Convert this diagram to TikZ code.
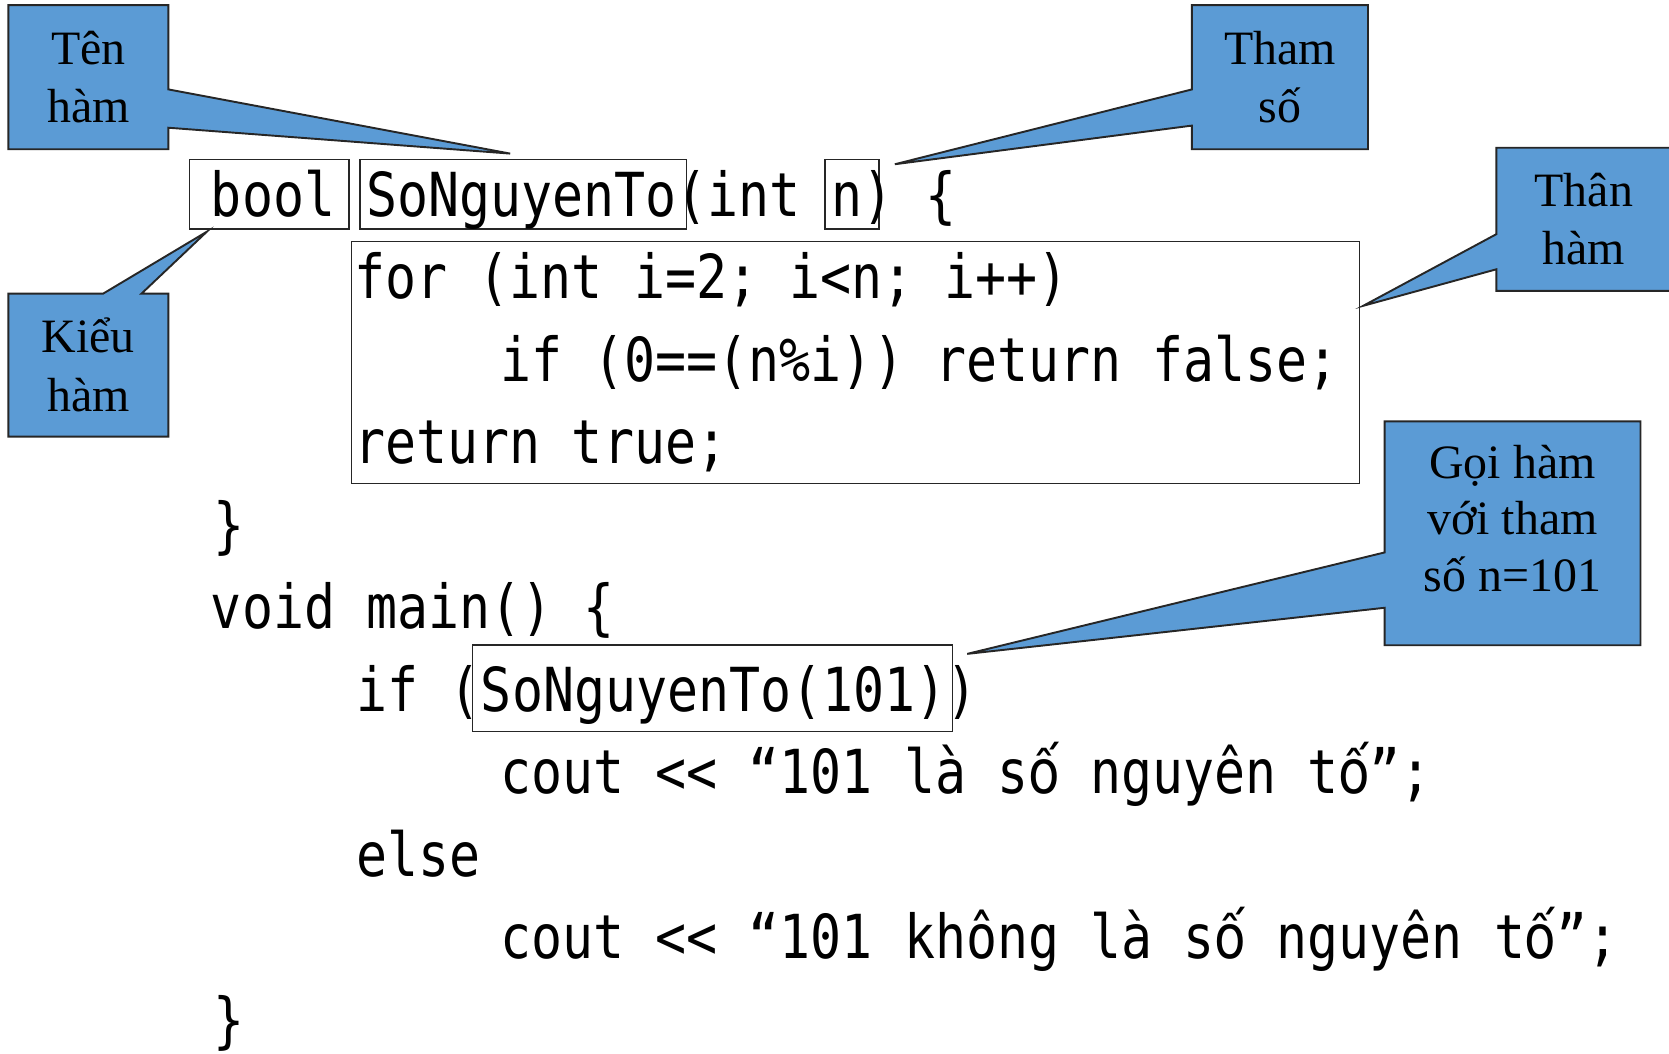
\documentclass[tikz,border=0pt]{standalone}
\usepackage{fontspec}
\setmainfont{Liberation Serif}
\newfontfamily\codefont[FakeStretch=0.85,Ligatures=TeXOff]{DejaVu Sans Mono}
\newfontfamily\codeaccent[FakeStretch=0.85]{DejaVu Sans}
% one code cell filled by a glyph from the proportional face
\newcommand{\cell}[1]{\makebox[29.17pt][c]{\codeaccent #1}}
\usetikzlibrary{calc,backgrounds}
\definecolor{calloutblue}{RGB}{91,155,213}
\begin{document}
\begin{tikzpicture}[x=1pt,y=-1pt,
  code/.style={anchor=base west, inner sep=0pt, font=\codefont\fontsize{57}{57}\selectfont},
  frame/.style={draw=black!85, line width=1.4pt, inner sep=0pt},
  note/.style={inner sep=0pt, align=center, font=\fontsize{45}{55}\selectfont},
  balloon/.style={fill=calloutblue, draw=black!85, line width=1.8pt, line join=miter}]
\useasboundingbox (0,0) rectangle (1568,990);

% frames around parts of the code
\node[frame, minimum width=150pt, minimum height=65pt]  (boolBox)  at (253,182.5) {};
\node[frame, minimum width=307pt, minimum height=65pt]  (nameBox)  at (491.5,182.5) {};
\node[frame, minimum width=51pt,  minimum height=65pt]  (paramBox) at (800.5,182.5) {};
\node[frame, minimum width=947pt, minimum height=227pt] (bodyBox)  at (803.5,340.5) {};
\node[frame, minimum width=451pt, minimum height=81pt]  (callBox)  at (669.5,646.5) {};

% source code
\node[code] (l1)  at (198,203)   {bool SoNguyenTo(int n) \{};
\node[code] (l2)  at (333,280.5) {for (int i=2; i<n; i++)};
\node[code] (l3)  at (470,358)   {if (0==(n\%i)) return false;};
\node[code] (l4)  at (333,435.5) {return true;};
\node[code] (l5)  at (200,513)   {\}};
\node[code] (l6)  at (198,590.5) {void main() \{};
\node[code] (l7)  at (335,668)   {if (SoNguyenTo(101))};
\node[code] (l8)  at (470,745.5) {cout << “101 là s\cell{ố} nguyên t\cell{ố}”;};
\node[code] (l9)  at (335,823)   {else};
\node[code] (l10) at (470,900.5) {cout << “101 không là s\cell{ố} nguyên t\cell{ố}”;};
\node[code] (l11) at (200,978)   {\}};

% callout boxes and their labels
\node[note, minimum width=150pt, minimum height=135pt] (tenNote)  at (83,72.5)    {Tên\\hàm};
\node[note, minimum width=165pt, minimum height=135pt] (thamNote) at (1202.5,72.5) {Tham\\số};
\node[note, minimum width=164pt, minimum height=134pt] (thanNote) at (1488,206)   {Thân\\hàm};
\node[note, minimum width=150pt, minimum height=134pt] (kieuNote) at (83,343)     {Kiểu\\hàm};
\node[note, minimum width=240pt, minimum height=210pt] (goiNote)  at (1421,501)   {};
\node[note, font=\fontsize{45}{53}\selectfont] (goiText) at ($(goiNote.center)+(0,-14)$)
      {Gọi hàm\\với tham\\số n=101};

% pointer tips
\coordinate (tipTen)  at ($(nameBox.north west)+(142,-5)$);
\coordinate (tipTham) at ($(paramBox.north east)+(14,5)$);
\coordinate (tipThan) at ($(bodyBox.north east)+(3,61)$);
\coordinate (tipKieu) at ($(boolBox.south west)+(17,2)$);
\coordinate (tipGoi)  at ($(callBox.north east)+(13,9)$);

% callout balloons
\begin{scope}[on background layer]
\draw[balloon] (tenNote.north west) -- (tenNote.north east) -- (tenNote.east |- 0,84)
  -- (tipTen) -- (tenNote.east |- 0,120) -- (tenNote.south east) -- (tenNote.south west) -- cycle;
\draw[balloon] (thamNote.north west) -- (thamNote.north east) -- (thamNote.south east)
  -- (thamNote.south west) -- (thamNote.west |- 0,118) -- (tipTham) -- (thamNote.west |- 0,84) -- cycle;
\draw[balloon] (thanNote.north west) -- (thanNote.north east) -- (thanNote.south east)
  -- (thanNote.south west) -- (thanNote.west |- 0,253) -- (tipThan) -- (thanNote.west |- 0,220) -- cycle;
\draw[balloon] (kieuNote.north west) -- (kieuNote.north -| 97,0) -- (tipKieu) -- (kieuNote.north -| 133,0)
  -- (kieuNote.north east) -- (kieuNote.south east) -- (kieuNote.south west) -- cycle;
\draw[balloon] (goiNote.north west) -- (goiNote.north east) -- (goiNote.south east)
  -- (goiNote.south west) -- (goiNote.west |- 0,571) -- (tipGoi) -- (goiNote.west |- 0,519) -- cycle;
\end{scope}
\end{tikzpicture}
\end{document}
